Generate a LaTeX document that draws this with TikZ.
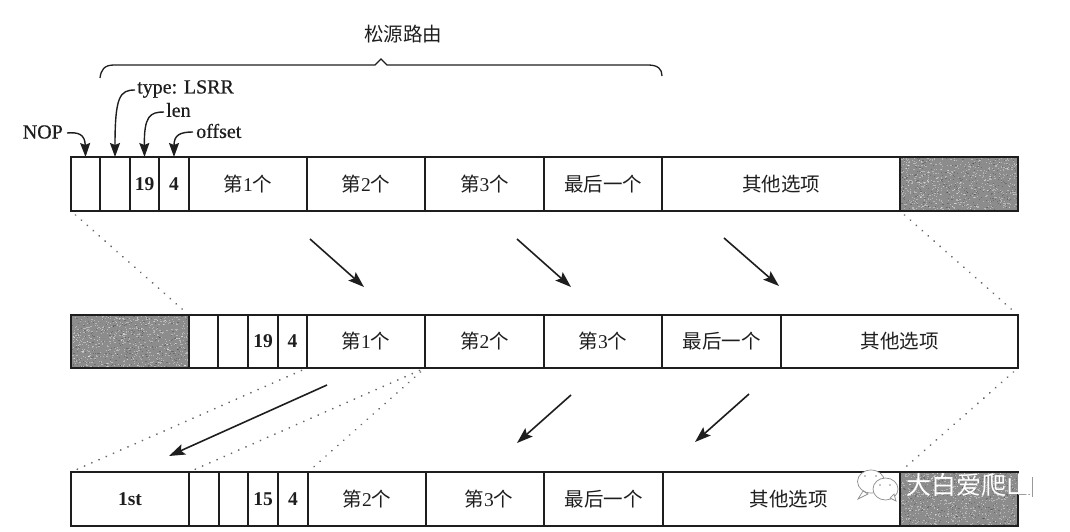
\documentclass[tikz,border=0pt]{standalone}
\usepackage{fontspec}
\setmainfont{Liberation Serif}
\newfontfamily\zhfont{Noto Sans CJK SC}
\newfontfamily\labfont[FakeBold=0.5]{Liberation Serif}
\usetikzlibrary{arrows.meta}
\definecolor{ink}{HTML}{1E1E1E}
\definecolor{shadebase}{HTML}{8C8C8C}
\newcommand{\zh}[1]{{\zhfont #1}}
\newcommand{\fld}[6]{% name, x0, x1, y0, y1, text
  \node[cellbox, minimum width={(#3-#2)*1pt}, minimum height={(#5-#4)*1pt}] (#1) at ({(#2+#3)/2},{(#4+#5)/2}) {#6};}
\newcommand{\speckle}[4]{% x0 x1 y0 y1
  \fill[shadebase] (#1,#3) rectangle (#2,#4);
  \begin{scope}
  \clip (#1,#3) rectangle (#2,#4);
  \foreach \i in {1,...,650}{
    \pgfmathsetmacro{\px}{#1+rnd*(#2-#1)}
    \pgfmathsetmacro{\py}{#3+rnd*(#4-#3)}
    \fill[white,opacity=.38] (\px,\py) rectangle ++(1.2,1);
  }
  \foreach \i in {1,...,300}{
    \pgfmathsetmacro{\px}{#1+rnd*(#2-#1)}
    \pgfmathsetmacro{\py}{#3+rnd*(#4-#3)}
    \fill[black,opacity=.22] (\px,\py) rectangle ++(1.2,1);
  }
  \end{scope}}
\tikzset{
  cellbox/.style={draw=ink, line width=1.2pt, inner sep=0pt, outer sep=0pt, text=ink,
    font=\fontsize{19.5}{21}\selectfont},
  lab/.style={inner sep=0pt, text=ink, font=\labfont\fontsize{20}{22}\selectfont},
  head/.style={inner sep=0pt, text=ink, font=\zhfont\fontsize{19.5}{21}\selectfont},
  leader/.style={draw=ink, line width=1.4pt, -{Stealth[length=14pt,width=10pt,inset=2pt]}},
  flow/.style={draw=ink, line width=1.6pt, -{Stealth[length=16pt,width=11pt,inset=3pt]}},
  dots/.style={draw=black!60, line width=1.9pt, line cap=round, dash pattern=on 0.1pt off 7.8pt, shorten >=6pt, shorten <=6pt},
  brace/.style={draw=ink, line width=1.3pt},
  bubble/.style={draw=black!45, line width=.7pt, fill=white},
  ghost/.style={draw=black!40, line width=.8pt}
}
\begin{document}
\begin{tikzpicture}[x=1pt,y=-1pt]
\useasboundingbox (0,0) rectangle (1070,532);
\pgfmathsetseed{4242}
\speckle{900}{1018}{157}{211}
\speckle{71}{189}{315}{368}
\speckle{900}{1018}{472}{526}

% row 1
\fld{a1}{71}{100}{157}{211}{}
\fld{a2}{100}{130}{157}{211}{}
\fld{a3}{130}{159}{157}{211}{\bfseries 19}
\fld{a4}{159}{189}{157}{211}{\bfseries 4}
\fld{a5}{189}{307}{157}{211}{\zh{第}1\zh{个}}
\fld{a6}{307}{425}{157}{211}{\zh{第}2\zh{个}\hspace{4pt}}
\fld{a7}{425}{544}{157}{211}{\zh{第}3\zh{个}\hspace{2pt}}
\fld{a8}{544}{662}{157}{211}{\zh{最后一个}\hspace{8pt}}
\fld{a9}{662}{900}{157}{211}{\zh{其他选项}\hspace{6pt}}
\fld{a10}{900}{1018}{157}{211}{}
% row 2
\fld{b1}{71}{189}{315}{368}{}
\fld{b2}{189}{218}{315}{368}{}
\fld{b3}{218}{248}{315}{368}{}
\fld{b4}{248}{278}{315}{368}{\bfseries 19}
\fld{b5}{278}{307}{315}{368}{\bfseries 4}
\fld{b6}{307}{425}{315}{368}{\zh{第}1\zh{个}}
\fld{b7}{425}{544}{315}{368}{\zh{第}2\zh{个}\hspace{12pt}}
\fld{b8}{544}{662}{315}{368}{\zh{第}3\zh{个}}
\fld{b9}{662}{781}{315}{368}{\zh{最后一个}}
\fld{b10}{781}{1018}{315}{368}{\zh{其他选项}\hspace{3pt}}
% row 3
\fld{c1}{71}{189}{472}{526}{\bfseries 1st}
\fld{c2}{189}{219}{472}{526}{}
\fld{c3}{219}{248}{472}{526}{}
\fld{c4}{248}{278}{472}{526}{\bfseries 15}
\fld{c5}{278}{308}{472}{526}{\bfseries 4}
\fld{c6}{308}{426}{472}{526}{\zh{第}2\zh{个}\hspace{3pt}}
\fld{c7}{426}{544}{472}{526}{\hspace{8pt}\zh{第}3\zh{个}}
\fld{c8}{544}{663}{472}{526}{\zh{最后一个}}
\fld{c9}{663}{900}{472}{526}{\hspace{14pt}\zh{其他选项}}
\fld{c10}{900}{1018}{472}{526}{}

% title and brace
\node[head] (title) at (403,34) {松源路由};
\coordinate (bl) at (100,78);
\coordinate (br) at (662,76);
\coordinate (bp) at (381,59);
\draw[brace] (bl) .. controls (101,70) and (104,65) .. (114,65) -- (375,65) -- (bp) -- (387,65) -- (648,65) .. controls (658,65) and (662,69) .. (br);

% field labels
\node[lab,anchor=east] (nop) at (63,132) {NOP};
\node[lab,anchor=west] (type) at (137,89) {type: LSRR};
\node[lab,anchor=west] (len) at (166,110) {len};
\node[lab,anchor=west] (offset) at (196,131) {offset};
\coordinate (n0) at (67,133);
\coordinate (t0) at (135,90);
\coordinate (l0) at (164,112);
\coordinate (o0) at (193,132);
\draw[leader] (n0) .. controls (78,132) and (85,134) .. (a1.north);
\draw[leader] (t0) .. controls (120,90) and (115,96) .. (a2.north);
\draw[leader] (l0) .. controls (150,112) and (144,116) .. (a3.north);
\draw[leader] (o0) .. controls (180,132) and (174,135) .. (a4.north);

% flow arrows
\coordinate (f1s) at (310,239); \coordinate (f1e) at (364,287);
\coordinate (f2s) at (517,239); \coordinate (f2e) at (571,287);
\coordinate (f3s) at (724,238); \coordinate (f3e) at (779,286);
\coordinate (f4s) at (327,385); \coordinate (f4e) at (169,456);
\coordinate (f5s) at (571,395); \coordinate (f5e) at (517,443);
\coordinate (f6s) at (749,394); \coordinate (f6e) at (695,442);
\draw[flow] (f1s) -- (f1e);
\draw[flow] (f2s) -- (f2e);
\draw[flow] (f3s) -- (f3e);
\draw[flow] (f4s) -- (f4e);
\draw[flow] (f5s) -- (f5e);
\draw[flow] (f6s) -- (f6e);

% dotted expansion lines
\draw[dots] (a1.south west) -- (b1.north east);
\draw[dots] (a10.south west) -- (b10.north east);
\draw[dots] (b6.south west) -- (c1.north west);
\draw[dots] (b6.south east) -- (c1.north east);
\draw[dots] (b6.south east) -- (c6.north west);
\draw[dots] (b10.south east) -- (c10.north west);

% watermark
\draw[bubble] (871,481.5) ellipse (13.5 and 11.5);
\draw[bubble] (858,499) -- (863,491) -- (868,494) -- cycle;
\fill[black!45] (865,476) circle (.8) (876,476) circle (.8);
\draw[bubble] (885.5,489) ellipse (12.5 and 11);
\draw[bubble] (896,501) -- (890,498) -- (894,494) -- cycle;
\fill[black!45] (880,485) circle (.8) (890,485) circle (.8);
\draw[ghost] (1018,494) -- (1030,494);
\draw[ghost] (1032,477) -- (1032,497);
\node[inner sep=0pt,text=white,font=\zhfont\fontsize{25}{27}\selectfont] (mark) at (968.5,485) {大白爱爬山};
\end{tikzpicture}
\end{document}
